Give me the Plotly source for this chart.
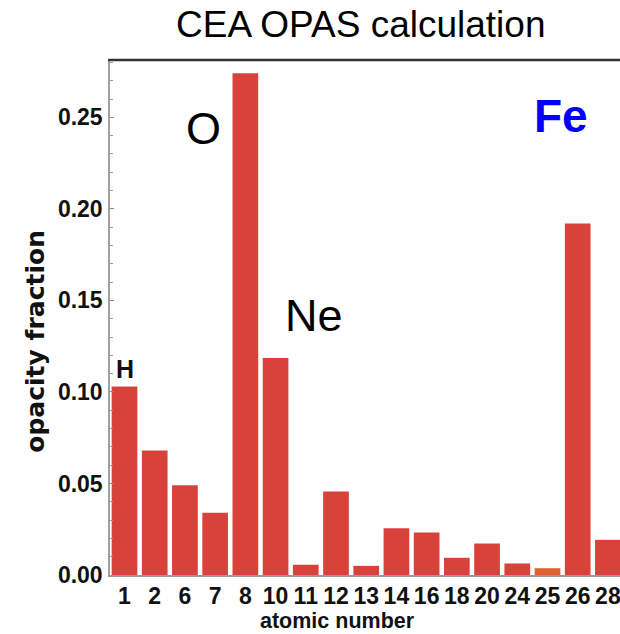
import plotly.graph_objects as go

# Opacity fraction per element (CEA OPAS calculation)
atomic_numbers = ["1", "2", "6", "7", "8", "10", "11", "12", "13",
                  "14", "16", "18", "20", "24", "25", "26", "28"]
opacity_fraction = [0.103, 0.068, 0.049, 0.034, 0.274, 0.1185, 0.0056, 0.0456, 0.0050,
                    0.0255, 0.0232, 0.0094, 0.0172, 0.0063, 0.0037, 0.192, 0.0192]
y_tick_values = [0.00, 0.05, 0.10, 0.15, 0.20, 0.25]

RED = "#D8423A"
ORANGE = "#E0622B"
bar_colors = [ORANGE if z == "25" else RED for z in atomic_numbers]

W, H = 620, 634
M_L, M_R, M_T, M_B = 110, 0, 60, 58.5
PW, PH = W - M_L - M_R, H - M_T - M_B


def px(x):
    return (x - M_L) / PW


def py(y):
    return (H - M_B - y) / PH


SANS = "Liberation Sans, Arial, Helvetica"

fig = go.Figure(
    go.Bar(
        x=atomic_numbers,
        y=opacity_fraction,
        marker=dict(color=bar_colors, line=dict(width=0)),
        hoverinfo="x+y",
    )
)

fig.update_layout(
    width=W,
    height=H,
    margin=dict(l=M_L, r=M_R, t=M_T, b=M_B, pad=0),
    paper_bgcolor="white",
    plot_bgcolor="white",
    bargap=0.15,
    showlegend=False,
    font=dict(family=SANS, color="#111111"),
)

fig.update_xaxes(
    type="category",
    range=[-0.48, 16.40],
    tickmode="array",
    tickvals=atomic_numbers,
    ticktext=atomic_numbers,
    tickangle=0,
    showline=True,
    linecolor="#9a9a9a",
    linewidth=1.5,
    ticks="",
    showgrid=False,
    zeroline=False,
    tickfont=dict(family=SANS, size=23, color="#111111", weight="bold"),
    ticklabelstandoff=0,
)

fig.update_yaxes(
    range=[0, 0.2813],
    tickvals=y_tick_values,
    tickformat=".2f",
    showline=True,
    linecolor="#a0a0a0",
    linewidth=1.5,
    ticks="inside",
    ticklen=4,
    tickcolor="#888888",
    minor=dict(dtick=0.01, tick0=0, ticks="inside", ticklen=3, tickcolor="#999999"),
    showgrid=False,
    zeroline=False,
    tickfont=dict(family=SANS, size=23, color="#111111", weight="bold"),
    ticklabelstandoff=1,
)

# frame line along the top of the plot
fig.add_shape(
    type="line", xref="paper", yref="paper",
    x0=px(108), x1=1.0, y0=1.0, y1=1.0,
    line=dict(color="#333333", width=2.5),
)

annotations = [
    dict(text="CEA OPAS calculation", x=px(361), y=py(24),
         font=dict(family=SANS, size=37, color="black")),
    dict(text="opacity fraction", x=px(36), y=py(342), textangle=-90,
         font=dict(family="DejaVu Sans, Verdana", size=25, color="#111111", weight="bold")),
    dict(text="atomic number", x=px(337), y=py(622),
         font=dict(family=SANS, size=21.5, color="#111111", weight="bold")),
    dict(text="O", x=px(203), y=py(129),
         font=dict(family=SANS, size=45, color="black")),
    dict(text="Ne", x=px(313.5), y=py(316),
         font=dict(family=SANS, size=45, color="black")),
    dict(text="Fe", x=px(561), y=py(116),
         font=dict(family=SANS, size=46, color="#0000FF", weight="bold")),
]
for a in annotations:
    fig.add_annotation(xref="paper", yref="paper", showarrow=False,
                       xanchor="center", yanchor="middle", **a)

# hydrogen label sits on top of its bar
h_idx = atomic_numbers.index("1")
fig.add_annotation(
    x=h_idx, y=opacity_fraction[h_idx], xref="x", yref="y",
    text="H", showarrow=False, xanchor="center", yanchor="bottom", yshift=1,
    font=dict(family=SANS, size=25, color="#111111", weight="bold"),
)

fig.write_html("out.html")
